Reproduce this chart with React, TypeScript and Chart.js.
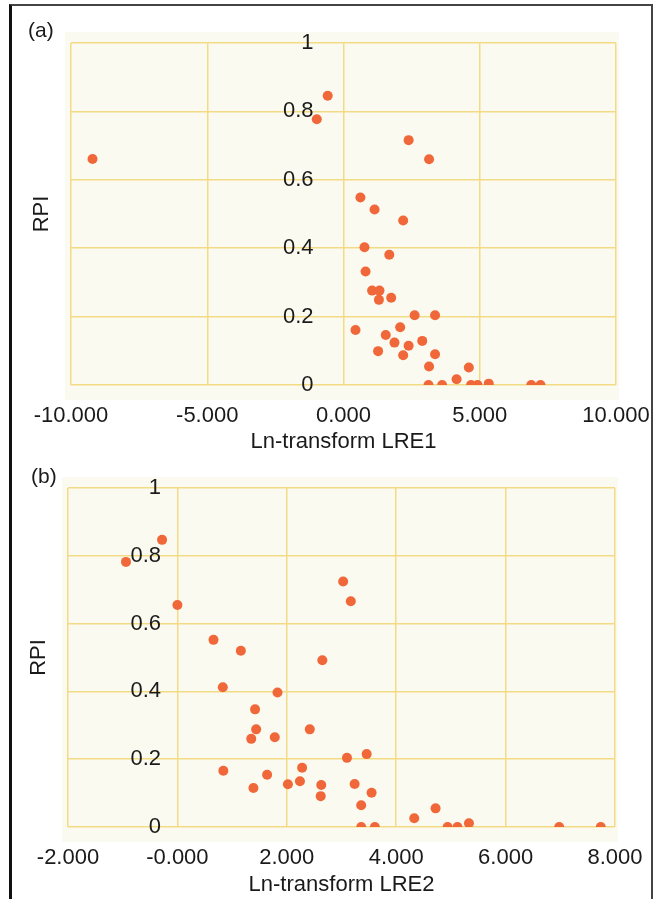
import React, { useEffect, useRef } from 'react';
import { Chart, registerables } from 'chart.js';

Chart.register(...registerables);

// Panel (a): Ln-transform LRE1 vs RPI
const lre1X = [-9.21, -0.58, -0.98, 2.39, 3.14, 0.62, 1.14, 2.19, 0.77, 1.68, 0.81, 1.05, 1.32, 1.30, 1.75, 2.61, 3.36, 0.44, 2.08, 1.55, 1.87, 2.89, 2.39, 1.27, 2.19, 3.36, 3.14, 4.60, 4.15, 3.12, 3.62, 4.68, 4.92, 5.33, 6.89, 7.23];
const rpiA = [0.661, 0.846, 0.777, 0.716, 0.660, 0.548, 0.513, 0.481, 0.403, 0.381, 0.332, 0.276, 0.276, 0.249, 0.255, 0.204, 0.204, 0.161, 0.169, 0.146, 0.124, 0.129, 0.115, 0.099, 0.087, 0.090, 0.054, 0.051, 0.017, 0, 0, 0, 0, 0.004, 0, 0];

// Panel (b): Ln-transform LRE2 vs RPI
const lre2X = [-0.94, -0.28, 0.0, 0.66, 1.16, 2.65, 3.03, 3.17, 0.83, 1.83, 1.42, 1.44, 1.35, 1.78, 2.42, 3.10, 3.46, 0.84, 1.64, 1.39, 2.02, 2.24, 2.28, 2.63, 2.62, 3.24, 3.55, 3.36, 3.36, 3.61, 4.33, 4.72, 4.94, 5.12, 5.33, 6.98, 7.74];
const rpiB = [0.782, 0.847, 0.655, 0.552, 0.520, 0.492, 0.724, 0.666, 0.412, 0.397, 0.347, 0.288, 0.260, 0.265, 0.288, 0.204, 0.215, 0.166, 0.154, 0.115, 0.126, 0.135, 0.175, 0.124, 0.091, 0.127, 0.101, 0.064, 0, 0, 0.026, 0.055, 0, 0, 0.011, 0, 0];

const xTickLabelsA = ['-10.000', '-5.000', '0.000', '5.000', '10.000'];
const xTickLabelsB = ['-2.000', '-0.000', '2.000', '4.000', '6.000', '8.000'];
const yTickLabels = ['0', '0.2', '0.4', '0.6', '0.8', '1'];

const FONT = "'Liberation Sans', Arial, Helvetica, sans-serif";
const TEXT = '#1a1a1a';
const GRID = '#f3db86';
const DOT = '#f0683a';

const ivoryPlugin = {
  id: 'ivory',
  beforeDraw(chart: any) {
    const { ctx, chartArea: a } = chart;
    ctx.save();
    ctx.fillStyle = '#fbfaf0';
    ctx.fillRect(a.left - 6, a.top - 11, a.right - a.left + 9, a.bottom - a.top + 26);
    ctx.restore();
  },
};

type PanelProps = {
  xs: number[];
  ys: number[];
  xMin: number;
  xMax: number;
  xStep: number;
  xLabels: string[];
  xTitle: string;
  height: number;
  padding: { left: number; right: number; top: number; bottom: number };
  xAxisHeight: number;
  yLabelAt: number;
  xLabelPad: number;
};

function Panel(p: PanelProps) {
  const ref = useRef<HTMLCanvasElement | null>(null);
  useEffect(() => {
    if (!ref.current) return;
    const data = p.xs.map((x, i) => ({ x, y: p.ys[i] }));
    const chart = new Chart(ref.current, {
      type: 'scatter',
      data: {
        datasets: [
          {
            data,
            backgroundColor: DOT,
            borderWidth: 0,
            pointRadius: 5,
            pointHoverRadius: 5,
          },
        ],
      },
      options: {
        responsive: false,
        animation: false,
        devicePixelRatio: 1,
        layout: { padding: p.padding },
        plugins: { legend: { display: false }, tooltip: { enabled: false } },
        scales: {
          x: {
            type: 'linear',
            min: p.xMin,
            max: p.xMax,
            afterFit: (s: any) => {
              s.height = p.xAxisHeight;
            },
            ticks: {
              stepSize: p.xStep,
              autoSkip: false,
              maxRotation: 0,
              padding: p.xLabelPad,
              color: TEXT,
              font: { family: FONT, size: 22 },
              callback: (_v: any, i: number) => p.xLabels[i],
            },
            grid: { color: GRID, lineWidth: 1.5, drawTicks: false },
            border: { display: false },
            title: {
              display: true,
              text: p.xTitle,
              color: TEXT,
              font: { family: FONT, size: 22 },
              padding: { top: 0, bottom: 0 },
            },
          },
          y: {
            type: 'linear',
            min: 0,
            max: 1,
            position: { x: p.yLabelAt } as any,
            ticks: {
              stepSize: 0.2,
              color: TEXT,
              font: { family: FONT, size: 22 },
              callback: (_v: any, i: number) => yTickLabels[i],
            },
            grid: { color: GRID, lineWidth: 1.5, drawTicks: false },
            border: { display: false },
          },
          yTitle: {
            type: 'linear',
            position: 'left',
            afterFit: (s: any) => {
              s.width = 42;
            },
            ticks: { display: false },
            grid: { display: false },
            border: { display: false },
            title: {
              display: true,
              text: 'RPI',
              color: TEXT,
              font: { family: FONT, size: 22 },
              padding: { top: 0, bottom: 0 },
            },
          },
        },
      },
      plugins: [ivoryPlugin],
    } as any);
    return () => chart.destroy();
  }, []);
  return <canvas ref={ref} width={668} height={p.height} style={{ display: 'block', width: 668, height: p.height }} />;
}

export default function App() {
  return (
    <div
      style={{
        position: 'absolute',
        left: 0,
        top: 0,
        width: 668,
        height: 899,
        background: '#ffffff',
        overflow: 'hidden',
        fontFamily: FONT,
      }}
    >
      <div style={{ position: 'absolute', left: 0, top: 0 }}>
        <Panel
          xs={lre1X}
          ys={rpiA}
          xMin={-10}
          xMax={10}
          xStep={5}
          xLabels={xTickLabelsA}
          xTitle="Ln-transform LRE1"
          height={457}
          padding={{ left: 29, right: 52, top: 43, bottom: 2 }}
          xAxisHeight={70}
          yLabelAt={-1.1}
          xLabelPad={18}
        />
      </div>
      <div style={{ position: 'absolute', left: 0, top: 450 }}>
        <Panel
          xs={lre2X}
          ys={rpiB}
          xMin={-2}
          xMax={8}
          xStep={2}
          xLabels={xTickLabelsB}
          xTitle="Ln-transform LRE2"
          height={449}
          padding={{ left: 26, right: 53, top: 38, bottom: 1 }}
          xAxisHeight={71}
          yLabelAt={-0.3}
          xLabelPad={18}
        />
      </div>
      <div
        style={{
          position: 'absolute',
          left: 9,
          top: 4,
          width: 639,
          height: 900,
          borderLeft: '3px solid #111',
          borderTop: '2px solid #444',
          borderRight: '2px solid #444',
          pointerEvents: 'none',
        }}
      />
      <div style={{ position: 'absolute', left: 28, top: 19, fontSize: 21, lineHeight: 1, color: TEXT }}>(a)</div>
      <div style={{ position: 'absolute', left: 31, top: 465, fontSize: 21, lineHeight: 1, color: TEXT }}>(b)</div>
    </div>
  );
}
